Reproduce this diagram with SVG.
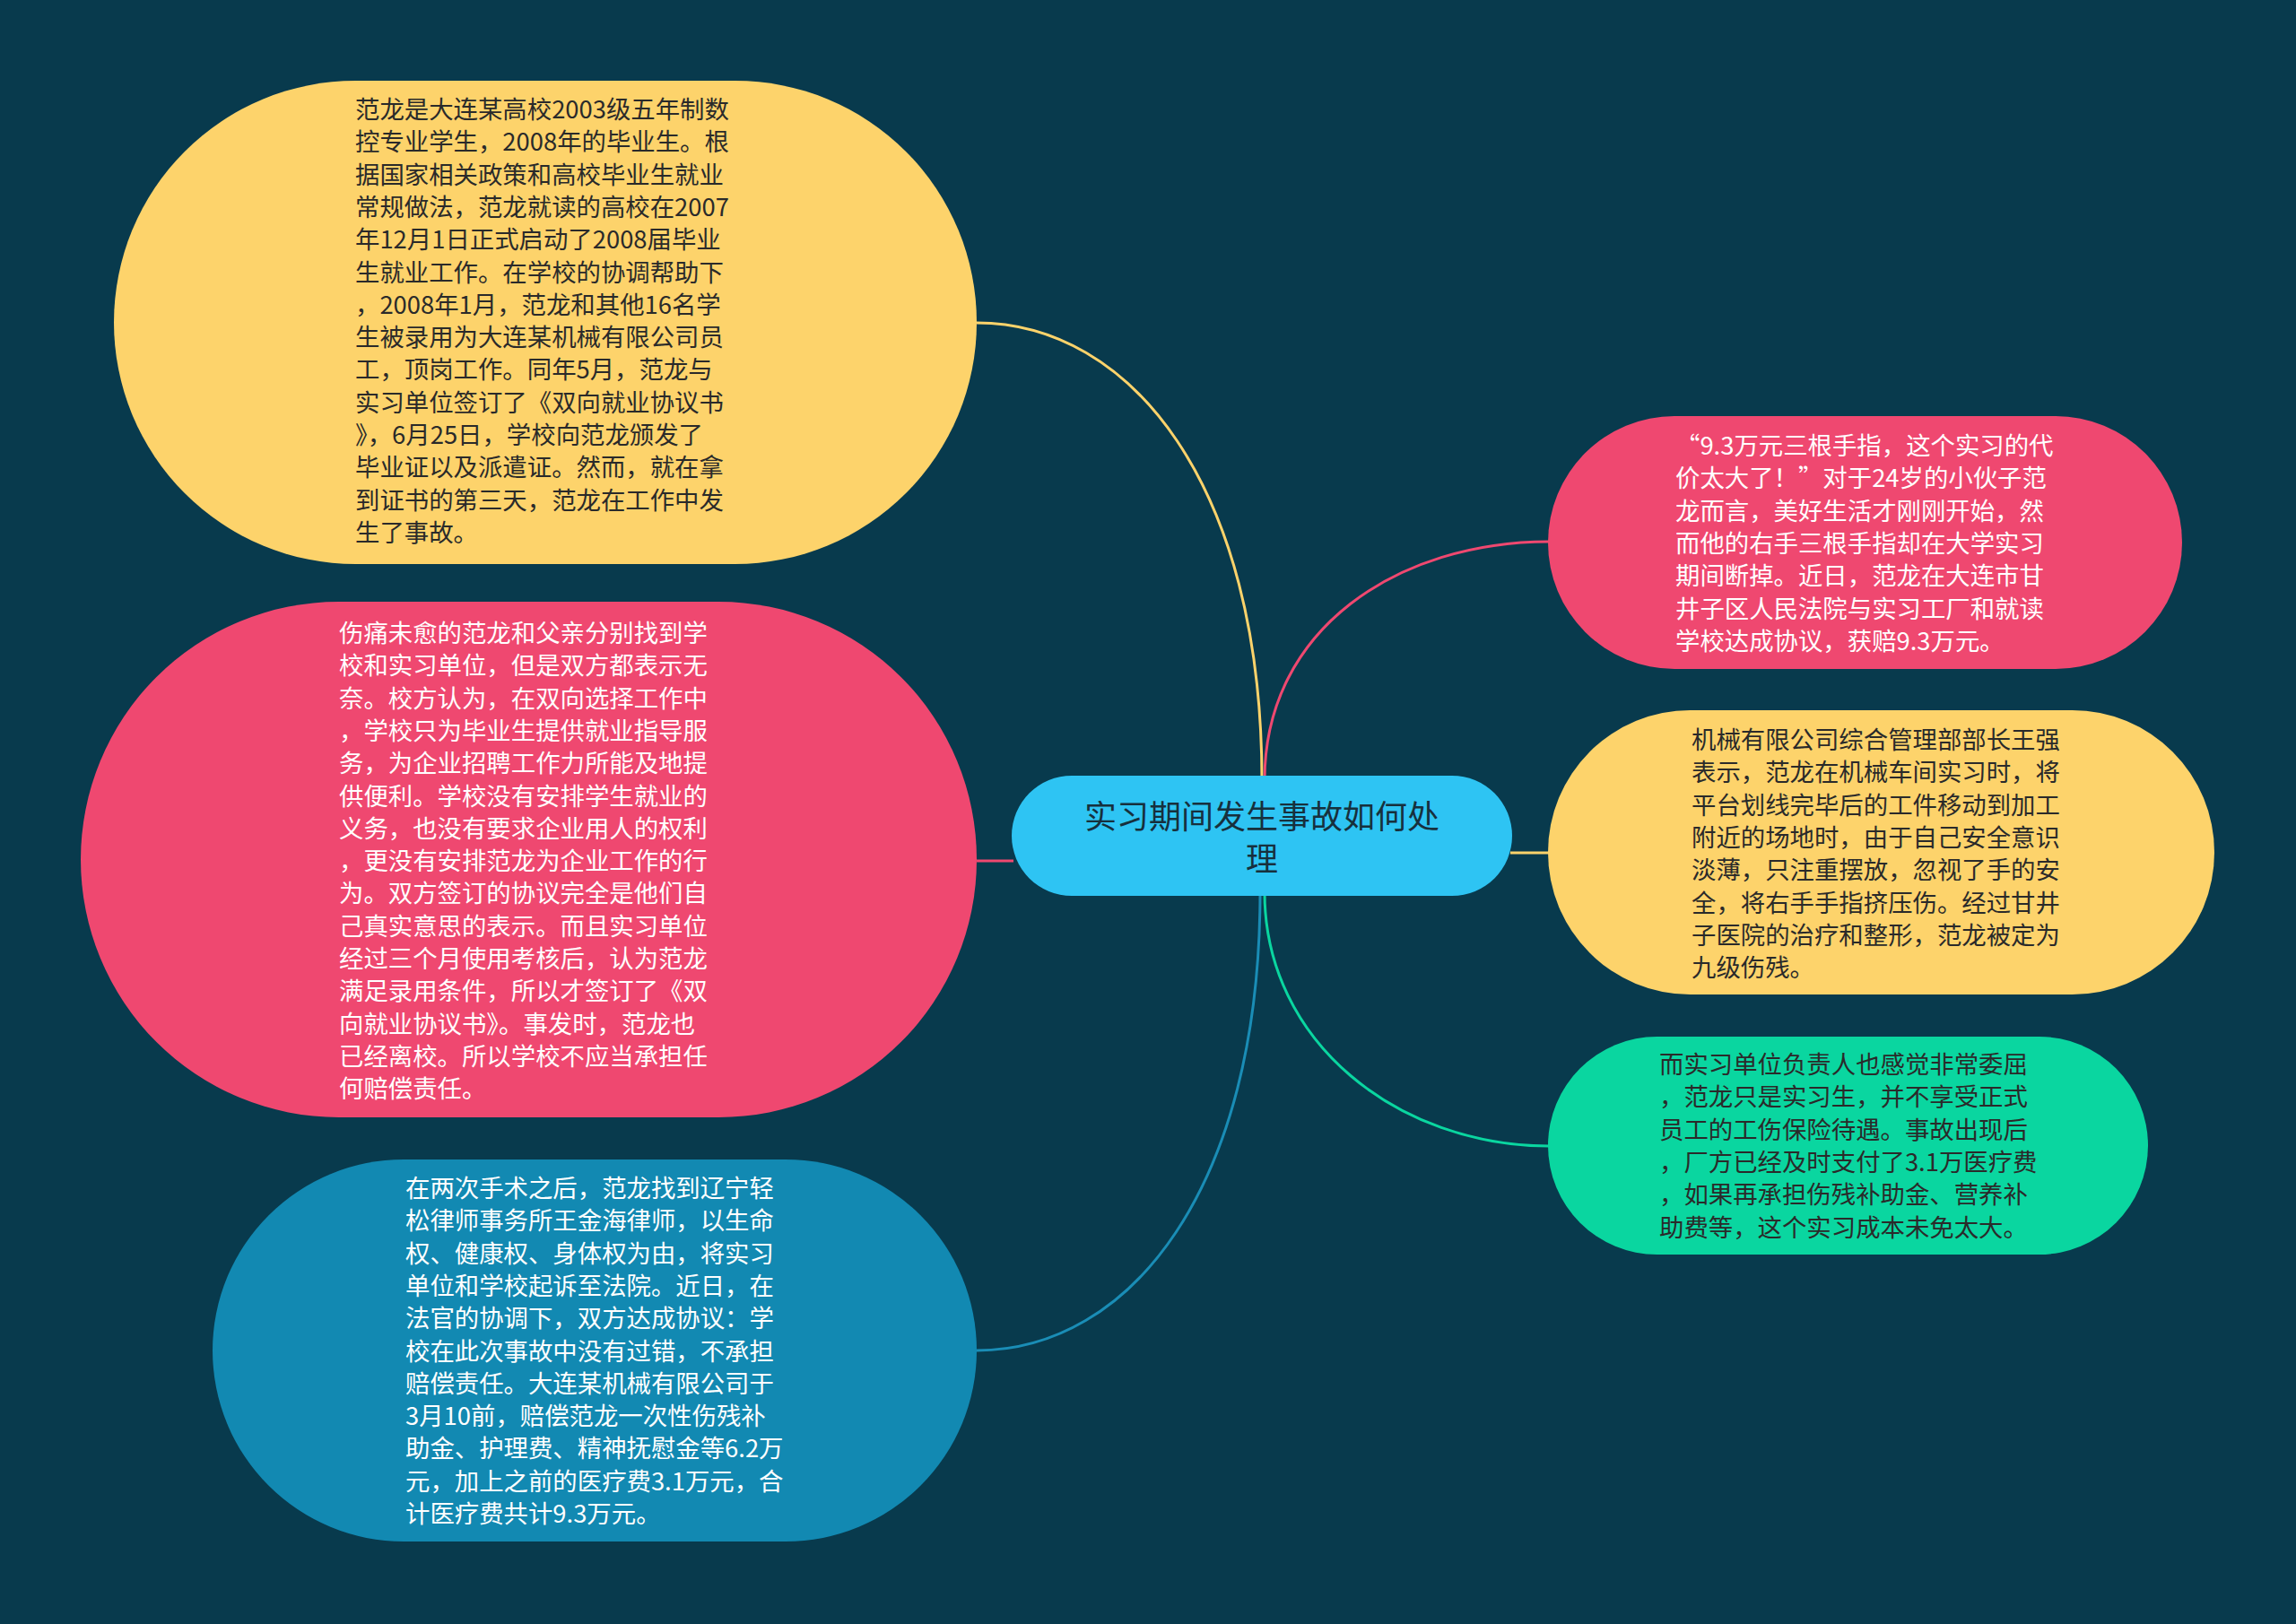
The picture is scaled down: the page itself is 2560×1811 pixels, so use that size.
<svg xmlns="http://www.w3.org/2000/svg" width="2560" height="1811" viewBox="0 0 2560 1811">
<style>
.t{font-family:"Noto Sans CJK SC","Noto Sans",sans-serif;font-size:27.4px}
.dk{fill:#2a2a2a}
.wt{fill:#ffffff}
.c{fill:none;stroke-width:3}
.main{font-family:"Noto Sans CJK SC","Noto Sans",sans-serif;font-size:36px;fill:#17303d;text-anchor:middle}
</style>
<rect x="0" y="0" width="2560" height="1811" fill="#083a4d"/>
<g id="connectors">
<path class="c" stroke="#fdd36b" d="M1407,870 C1407,540 1260,360 1089,360"/>
<path class="c" stroke="#ef4870" d="M1130,960 L1089,960"/>
<path class="c" stroke="#1a8db6" d="M1405,995 C1405,1325 1260,1506 1089,1506"/>
<path class="c" stroke="#ef4870" d="M1410,870 C1410,700 1560,604 1727,604"/>
<path class="c" stroke="#fdd36b" d="M1684,951 L1727,951"/>
<path class="c" stroke="#0ad6a0" d="M1410,995 C1410,1163 1560,1278 1727,1278"/>
</g>
<g id="root">
<rect x="1128" y="865" width="558" height="134" rx="67" fill="#2ec4f3"/>
<text class="main" x="1407" y="923.5"><tspan x="1407">实习期间发生事故如何处</tspan><tspan x="1407" dy="47">理</tspan></text>
</g>
<g id="node-left-1">
<rect x="127" y="90" width="962" height="539" rx="269.5" fill="#fdd36b"/>
<text class="t dk" x="396" y="132"><tspan x="396">范龙是大连某高校2003级五年制数</tspan><tspan x="396" dy="36.3">控专业学生，2008年的毕业生。根</tspan><tspan x="396" dy="36.3">据国家相关政策和高校毕业生就业</tspan><tspan x="396" dy="36.3">常规做法，范龙就读的高校在2007</tspan><tspan x="396" dy="36.3">年12月1日正式启动了2008届毕业</tspan><tspan x="396" dy="36.3">生就业工作。在学校的协调帮助下</tspan><tspan x="396" dy="36.3">，2008年1月，范龙和其他16名学</tspan><tspan x="396" dy="36.3">生被录用为大连某机械有限公司员</tspan><tspan x="396" dy="36.3">工，顶岗工作。同年5月，范龙与</tspan><tspan x="396" dy="36.3">实习单位签订了《双向就业协议书</tspan><tspan x="396" dy="36.3">》，6月25日，学校向范龙颁发了</tspan><tspan x="396" dy="36.3">毕业证以及派遣证。然而，就在拿</tspan><tspan x="396" dy="36.3">到证书的第三天，范龙在工作中发</tspan><tspan x="396" dy="36.3">生了事故。</tspan></text>
</g>
<g id="node-left-2">
<rect x="90" y="671" width="999" height="575" rx="287.5" fill="#ef4870"/>
<text class="t wt" x="378" y="716"><tspan x="378">伤痛未愈的范龙和父亲分别找到学</tspan><tspan x="378" dy="36.3">校和实习单位，但是双方都表示无</tspan><tspan x="378" dy="36.3">奈。校方认为，在双向选择工作中</tspan><tspan x="378" dy="36.3">，学校只为毕业生提供就业指导服</tspan><tspan x="378" dy="36.3">务，为企业招聘工作力所能及地提</tspan><tspan x="378" dy="36.3">供便利。学校没有安排学生就业的</tspan><tspan x="378" dy="36.3">义务，也没有要求企业用人的权利</tspan><tspan x="378" dy="36.3">，更没有安排范龙为企业工作的行</tspan><tspan x="378" dy="36.3">为。双方签订的协议完全是他们自</tspan><tspan x="378" dy="36.3">己真实意思的表示。而且实习单位</tspan><tspan x="378" dy="36.3">经过三个月使用考核后，认为范龙</tspan><tspan x="378" dy="36.3">满足录用条件，所以才签订了《双</tspan><tspan x="378" dy="36.3">向就业协议书》。事发时，范龙也</tspan><tspan x="378" dy="36.3">已经离校。所以学校不应当承担任</tspan><tspan x="378" dy="36.3">何赔偿责任。</tspan></text>
</g>
<g id="node-left-3">
<rect x="237" y="1293" width="852" height="426" rx="213" fill="#1289b2"/>
<text class="t wt" x="452" y="1335"><tspan x="452">在两次手术之后，范龙找到辽宁轻</tspan><tspan x="452" dy="36.3">松律师事务所王金海律师，以生命</tspan><tspan x="452" dy="36.3">权、健康权、身体权为由，将实习</tspan><tspan x="452" dy="36.3">单位和学校起诉至法院。近日，在</tspan><tspan x="452" dy="36.3">法官的协调下，双方达成协议：学</tspan><tspan x="452" dy="36.3">校在此次事故中没有过错，不承担</tspan><tspan x="452" dy="36.3">赔偿责任。大连某机械有限公司于</tspan><tspan x="452" dy="36.3">3月10前，赔偿范龙一次性伤残补</tspan><tspan x="452" dy="36.3">助金、护理费、精神抚慰金等6.2万</tspan><tspan x="452" dy="36.3">元，加上之前的医疗费3.1万元，合</tspan><tspan x="452" dy="36.3">计医疗费共计9.3万元。</tspan></text>
</g>
<g id="node-right-1">
<rect x="1726" y="464" width="707" height="282" rx="141" fill="#ef4870"/>
<text class="t wt" x="1868" y="507"><tspan x="1868">“9.3万元三根手指，这个实习的代</tspan><tspan x="1868" dy="36.3">价太大了！”对于24岁的小伙子范</tspan><tspan x="1868" dy="36.3">龙而言，美好生活才刚刚开始，然</tspan><tspan x="1868" dy="36.3">而他的右手三根手指却在大学实习</tspan><tspan x="1868" dy="36.3">期间断掉。近日，范龙在大连市甘</tspan><tspan x="1868" dy="36.3">井子区人民法院与实习工厂和就读</tspan><tspan x="1868" dy="36.3">学校达成协议，获赔9.3万元。</tspan></text>
</g>
<g id="node-right-2">
<rect x="1726" y="792" width="743" height="317" rx="158.5" fill="#fdd36b"/>
<text class="t dk" x="1886" y="835"><tspan x="1886">机械有限公司综合管理部部长王强</tspan><tspan x="1886" dy="36.3">表示，范龙在机械车间实习时，将</tspan><tspan x="1886" dy="36.3">平台划线完毕后的工件移动到加工</tspan><tspan x="1886" dy="36.3">附近的场地时，由于自己安全意识</tspan><tspan x="1886" dy="36.3">淡薄，只注重摆放，忽视了手的安</tspan><tspan x="1886" dy="36.3">全，将右手手指挤压伤。经过甘井</tspan><tspan x="1886" dy="36.3">子医院的治疗和整形，范龙被定为</tspan><tspan x="1886" dy="36.3">九级伤残。</tspan></text>
</g>
<g id="node-right-3">
<rect x="1726" y="1156" width="669" height="243" rx="121.5" fill="#0ad6a0"/>
<text class="t dk" x="1850" y="1197"><tspan x="1850">而实习单位负责人也感觉非常委屈</tspan><tspan x="1850" dy="36.3">，范龙只是实习生，并不享受正式</tspan><tspan x="1850" dy="36.3">员工的工伤保险待遇。事故出现后</tspan><tspan x="1850" dy="36.3">，厂方已经及时支付了3.1万医疗费</tspan><tspan x="1850" dy="36.3">，如果再承担伤残补助金、营养补</tspan><tspan x="1850" dy="36.3">助费等，这个实习成本未免太大。</tspan></text>
</g>
</svg>
